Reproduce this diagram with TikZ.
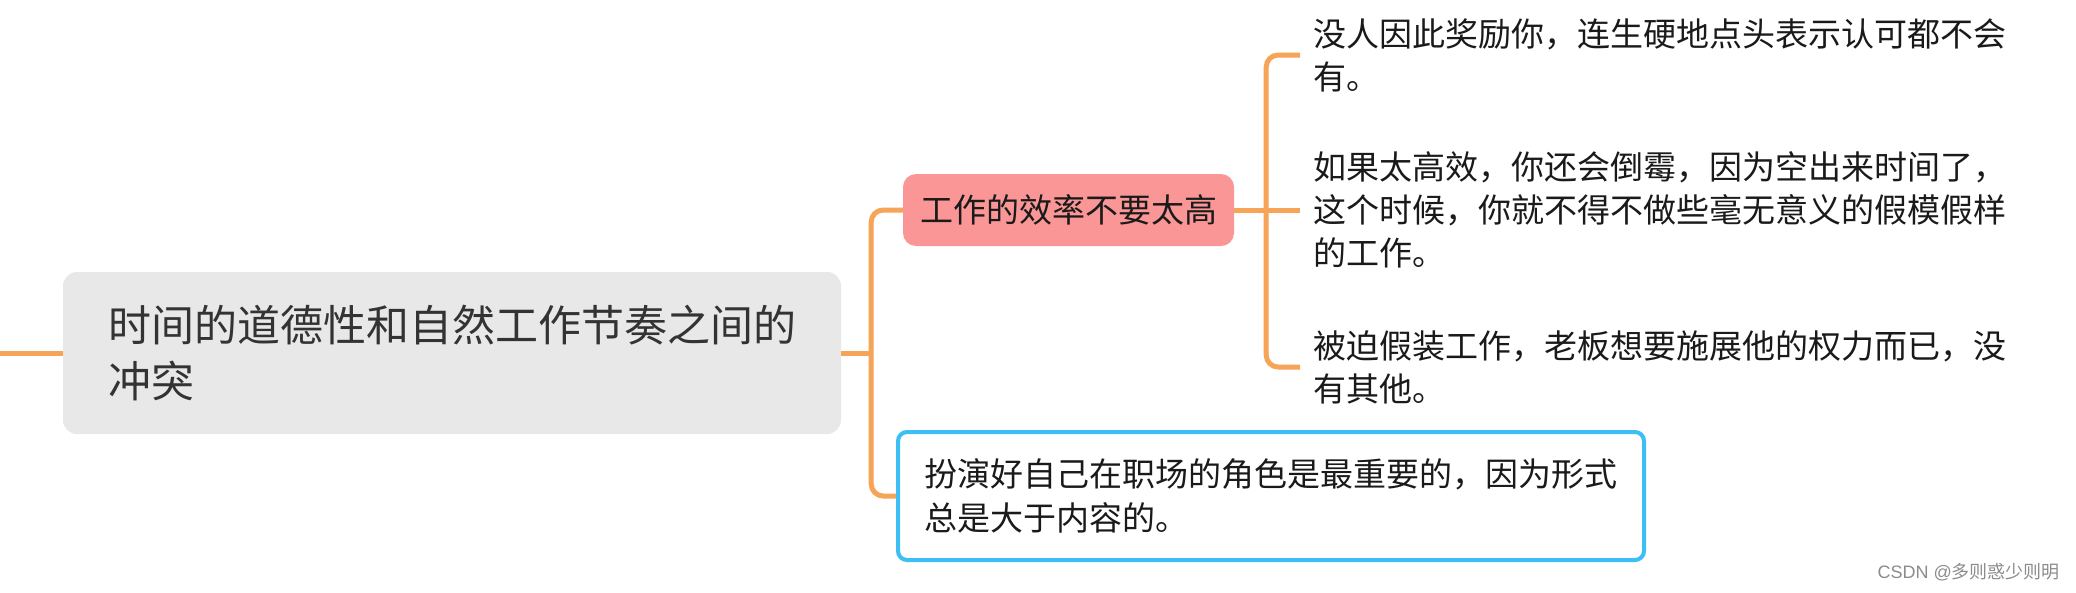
\documentclass[tikz,border=0pt]{standalone}
\usepackage{fontspec}
\setmainfont{Noto Sans CJK SC}
\newfontfamily\wmlatin{Liberation Sans}
\definecolor{branch}{HTML}{F6A457}
\definecolor{rootfill}{HTML}{E8E8E8}
\definecolor{roottext}{HTML}{333333}
\definecolor{pinkfill}{HTML}{FA9696}
\definecolor{leaftext}{HTML}{1A1A1A}
\definecolor{bluebd}{HTML}{3DBEF5}
\definecolor{wmark}{HTML}{8C8C8C}
\tikzset{
  conn/.style={draw=branch, line width=5pt},
  roundconn/.style={conn, rounded corners=12pt},
  rootbox/.style={rectangle, rounded corners=14pt, fill=rootfill, text=roottext,
    minimum width=778pt, minimum height=162pt, align=left,
    font=\fontsize{43}{56}\selectfont},
  pinkbox/.style={rectangle, rounded corners=13pt, fill=pinkfill, text=leaftext,
    minimum width=331pt, minimum height=72pt, inner sep=0pt,
    font=\fontsize{33}{43}\selectfont},
  leaftxt/.style={anchor=west, align=left, text=leaftext, inner xsep=13pt, inner ysep=0pt,
    font=\fontsize{33}{43}\selectfont},
  bluebox/.style={rectangle, rounded corners=9pt, draw=bluebd, line width=4pt, fill=white,
    text=leaftext, minimum width=746pt, minimum height=128pt, align=left, inner sep=0pt,
    font=\fontsize{33}{44}\selectfont},
}
\begin{document}
\begin{tikzpicture}[x=1pt,y=-1pt]
\useasboundingbox (0,0) rectangle (2076,592);
\fill[white] (0,0) rectangle (2076,592);

\coordinate (lstub) at (0,353);
\node[rootbox] (root) at (452,353) {时间的道德性和自然工作节奏之间的\\冲突};
\node[pinkbox] (pink) at (1068.5,210) {工作的效率不要太高};
\node[bluebox] (bottom) at (1271,496) {扮演好自己在职场的角色是最重要的，因为形式\\总是大于内容的。};

\node[leaftxt] (leaf1) at (1300,55) {没人因此奖励你，连生硬地点头表示认可都不会\\有。};
\node[leaftxt] (leaf2) at (1300,210) {如果太高效，你还会倒霉，因为空出来时间了，\\这个时候，你就不得不做些毫无意义的假模假样\\的工作。};
\node[leaftxt] (leaf3) at (1300,367) {被迫假装工作，老板想要施展他的权力而已，没\\有其他。};

\node[anchor=east, text=wmark, inner sep=0pt, font=\fontsize{18}{20}\selectfont] (wm) at (2060,572) {{\wmlatin CSDN @}多则惑少则明};

\coordinate (j1) at ([xshift=30pt]root.east);
\coordinate (j2) at ([xshift=32pt]pink.east);
\draw[conn] (lstub) -- (root.west);
\draw[conn] (root.east) -- (j1);
\draw[roundconn] (pink.west) -| (j1) |- (bottom.west);
\draw[conn] (pink.east) -- (leaf2.west);
\draw[roundconn] (leaf1.west) -| (j2) |- (leaf3.west);
\end{tikzpicture}
\end{document}
